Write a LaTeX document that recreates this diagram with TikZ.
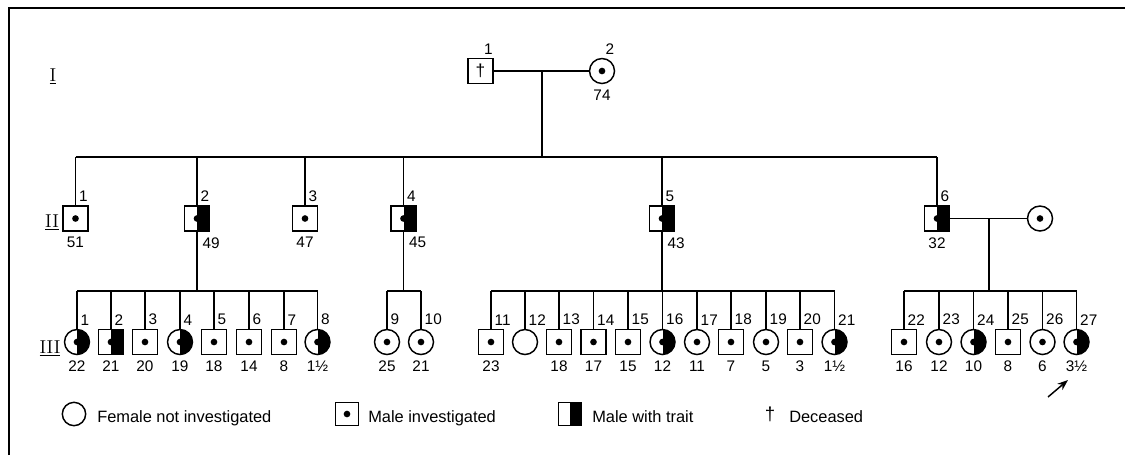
\documentclass[tikz,border=0pt]{standalone}
\usepackage{fontspec}
\newfontfamily\sansf{Liberation Sans}
\usetikzlibrary{arrows.meta}
\tikzset{
  ln/.style={line width=1.1pt},
  sym/.style={draw, line width=1.1pt, fill=white, inner sep=0pt, minimum size=18.75pt},
  dotc/.style={path picture={\fill[black] (path picture bounding box.center) circle (2.5pt);}},
  half/.style={path picture={\fill[black] (path picture bounding box.north) rectangle (path picture bounding box.south east);
      \fill[black] (path picture bounding box.center) circle (2.5pt);}},
  halfonly/.style={path picture={\fill[black] (path picture bounding box.north) rectangle (path picture bounding box.south east);}},
  mi/.style={sym, rectangle, dotc},
  mt/.style={sym, rectangle, half},
  fi/.style={sym, circle, dotc},
  ft/.style={sym, circle, half},
  fn/.style={sym, circle},
  num/.style={font=\sansf\fontsize{11.5}{12}\selectfont, inner sep=2.6pt},
  ntop/.style={num, anchor=south west},
  nbot/.style={num, anchor=north, inner sep=4pt},
  nbotr/.style={num, anchor=north west, inner sep=4pt},
  leg/.style={font=\sansf\fontsize{12.3}{13}\selectfont, inner sep=0pt, anchor=base west},
  gen/.style={font=\rmfamily\fontsize{14}{14}\selectfont, inner sep=0pt},
}
\begin{document}
\begin{tikzpicture}[x=0.75pt, y=-0.75pt]
\useasboundingbox (0,0) rectangle (1125,455);
% frame
\draw[ln] (9,455) -- (9,8) -- (1125,8);
% generation labels
\node[gen] (gI) at (53,76) {\underline{I}};
\node[gen] (gII) at (52,222) {\underline{II}};
\node[gen] (gIII) at (50,348) {\underline{III}};
% generation I
\node[sym, rectangle, font=\sansf\fontsize{13}{13}\selectfont, label={[ntop]north:1}] (I1) at (480.5,71) {†};
\node[fi, label={[ntop]north:2}, label={[nbot]south:74}] (I2) at (602,71) {};
\coordinate (m1) at (542,71);
\coordinate (s2) at (542,157);
% generation II
\node[mi, label={[ntop]north:1}, label={[nbot]south:51}] (II1) at (75.5,218.5) {};
\node[mt, label={[ntop]north:2}, label={[nbotr]south:49}] (II2) at (197,218.5) {};
\node[mi, label={[ntop]north:3}, label={[nbot]south:47}] (II3) at (305,218.5) {};
\node[mt, label={[ntop]north:4}, label={[nbotr]south:45}] (II4) at (403.5,218.5) {};
\node[mt, label={[ntop]north:5}, label={[nbotr]south:43}] (II5) at (662,218.5) {};
\node[mt, label={[ntop]north:6}, label={[nbot]south:32}] (II6) at (937,218.5) {};
\node[fi] (II6w) at (1040,218.5) {};
\coordinate (m6) at (989,218.5);
% generation III
\foreach \n/\x/\s/\a in {1/77/ft/22, 2/111/mt/21, 3/145/mi/20, 4/180/ft/19, 5/214/mi/18, 6/249/mi/14, 7/284/mi/8, 8/317.5/ft/1½,
  9/387/fi/25, 10/421/fi/21,
  11/491/mi/23, 12/525/fn/, 13/559/mi/18, 14/593.5/mi/17, 15/628/mi/15, 16/662.5/ft/12, 17/697/fi/11, 18/731/mi/7, 19/766/fi/5, 20/800/mi/3, 21/834.5/ft/1½,
  22/904/mi/16, 23/939/fi/12, 24/973.5/ft/10, 25/1008/mi/8, 26/1042.5/fi/6, 27/1076.5/ft/3½}
  \node[\s, label={[ntop]north:\n}, label={[nbot]south:\a}] (III\n) at (\x,342) {};
\coordinate (sA) at (197,291);
\coordinate (sB) at (403.5,291);
\coordinate (sC) at (662,291);
\coordinate (sD) at (989,291);
% connectors
\draw[ln] (I1) -- (I2);
\draw[ln] (m1) -- (s2);
\draw[ln] (II1.north |- s2) -- (II6.north |- s2);
\foreach \i in {1,...,6} \draw[ln] (II\i.north) -- (II\i.north |- s2);
\draw[ln] (II6) -- (II6w);
\draw[ln] (II2.south) -- (sA);
\draw[ln] (II4.south) -- (sB);
\draw[ln] (II5.south) -- (sC);
\draw[ln] (m6) -- (sD);
\draw[ln] (III1.north |- sA) -- (III8.north |- sA);
\draw[ln] (III9.north |- sB) -- (III10.north |- sB);
\draw[ln] (III11.north |- sC) -- (III21.north |- sC);
\draw[ln] (III22.north |- sD) -- (III27.north |- sD);
\foreach \i in {1,...,27} \draw[ln] (III\i.north) -- (III\i.north |- sA);
% proband arrow
\coordinate (arT) at (1048,397);
\coordinate (arH) at (1068,380);
\draw[ln, -{Stealth[length=8pt,width=6pt]}] (arT) -- (arH);
% legend
\node[fn, minimum size=17.5pt] (L1) at (74,414) {};
\node[leg] (L1t) at (97,422) {Female not investigated};
\node[mi, minimum size=17.5pt] (L2) at (347,414) {};
\node[leg] (L2t) at (368,422) {Male investigated};
\node[sym, rectangle, halfonly, minimum size=17.5pt] (L3) at (570,414) {};
\node[leg] (L3t) at (592,422) {Male with trait};
\node[font=\sansf\fontsize{14}{14}\selectfont, inner sep=0pt] (L4) at (770,414) {†};
\node[leg] (L4t) at (789,422) {Deceased};
\end{tikzpicture}
\end{document}
